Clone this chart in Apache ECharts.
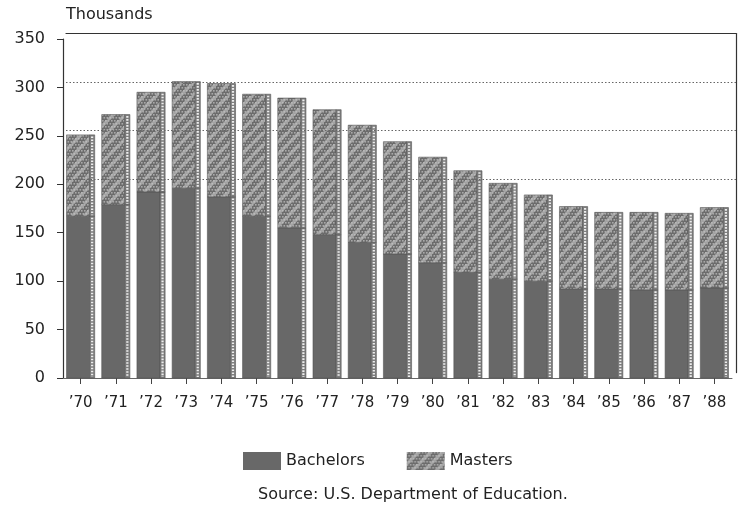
<!DOCTYPE html>
<html>
<head>
<meta charset="utf-8">
<script src="https://cdn.jsdelivr.net/npm/echarts@6/dist/echarts.min.js"></script>
<style>
  html, body { margin: 0; padding: 0; background: #ffffff; }
  #chart { width: 739px; height: 515px; }
</style>
</head>
<body>
<div id="chart"></div>
<script>
// Degrees conferred, in thousands, 1970-1988
const years = ['\u201970', '\u201971', '\u201972', '\u201973', '\u201974', '\u201975', '\u201976',
  '\u201977', '\u201978', '\u201979', '\u201980', '\u201981', '\u201982', '\u201983', '\u201984',
  '\u201985', '\u201986', '\u201987', '\u201988'];
const bachelors = [167, 179, 192, 196, 187, 167, 155, 148, 140, 128, 119, 109, 102, 100, 92, 92, 91, 91, 93];
const masters   = [ 84,  93, 103, 110, 117, 126, 134, 129, 121, 116, 109, 105,  99,  89, 85, 79, 80, 79, 83];
const yMin = 0, yMax = 350, yStep = 50;
const backGridValues = [200, 250, 300];

const FONT = 'DejaVu Sans';
const INK = '#222222';

// Textured fill for the Masters segments: dotted screen with light diagonal hatching
function mastersTile() {
  const c = document.createElement('canvas');
  c.width = 12; c.height = 12;
  const g = c.getContext('2d');
  g.fillStyle = '#6c6c6c';
  g.fillRect(0, 0, 12, 12);
  g.fillStyle = '#a9a9a9';
  for (let y = 0; y < 12; y += 3) {
    const off = (y / 3) % 2 ? 1.5 : 0;
    for (let x = off; x < 12; x += 3) g.fillRect(x, y, 1.6, 1.6);
  }
  g.strokeStyle = 'rgba(200,200,200,0.6)';
  g.lineWidth = 3.2;
  for (const k of [-12, 0, 12]) {
    g.beginPath();
    g.moveTo(k, 12);
    g.lineTo(k + 12, 0);
    g.stroke();
  }
  return c;
}

const mastersFill = { image: mastersTile(), repeat: 'repeat' };
const bachelorsFill = '#686868';

// Draws one bar segment: a front face plus a narrow dotted side face
function segment(frontFill) {
  return function (params, api) {
    const i = api.value(0);
    const lo = api.value(1);
    const hi = api.value(2);
    const base = api.coord([i, lo]);
    const top = api.coord([i, hi]);
    const bw = api.size([1, 0])[0];
    const cx = base[0];
    const x0 = cx - 0.40 * bw;
    const x1 = cx + 0.255 * bw;
    const x2 = cx + 0.40 * bw;
    const h = base[1] - top[1];
    const mid = (x1 + x2) / 2;
    return {
      type: 'group',
      children: [
        { type: 'rect', shape: { x: x0, y: top[1], width: x1 - x0, height: h },
          style: { fill: frontFill, stroke: '#555', lineWidth: 0.6 } },
        { type: 'rect', shape: { x: x1, y: top[1], width: x2 - x1, height: h },
          style: { fill: '#7e7e7e', stroke: '#555', lineWidth: 0.6 } },
        { type: 'line', shape: { x1: mid, y1: top[1] + 1.5, x2: mid, y2: base[1] - 1 },
          style: { stroke: '#eeeeee', lineWidth: 2.2, lineDash: [1.6, 1.4] } }
      ]
    };
  };
}

const chart = echarts.init(document.getElementById('chart'), null, { renderer: 'canvas' });

chart.setOption({
  backgroundColor: '#ffffff',
  animation: false,
  title: [
    { text: 'Thousands', left: 66, top: 7, padding: 0,
      textStyle: { fontFamily: FONT, fontSize: 16, fontWeight: 'normal', color: INK } },
    { text: 'Source: U.S. Department of Education.', left: 258, top: 487, padding: 0,
      textStyle: { fontFamily: FONT, fontSize: 16, fontWeight: 'normal', color: INK } }
  ],
  legend: {
    data: ['Bachelors', 'Masters'],
    left: 243, top: 452, padding: 0,
    icon: 'rect', itemWidth: 38, itemHeight: 18, itemGap: 42,
    textStyle: { fontFamily: FONT, fontSize: 16, color: INK },
    selectedMode: false
  },
  grid: [
    // front plane: bars, axis labels
    { left: 63, right: 7, top: 39, bottom: 137 },
    // back wall: frame and dotted reference lines
    { left: 66, right: 3, top: 33.6, bottom: 142.4 }
  ],
  xAxis: [
    {
      type: 'category', gridIndex: 0, data: years,
      axisLine: { show: true, lineStyle: { color: '#666', width: 1 } },
      axisTick: { show: true, alignWithLabel: true, length: 6, lineStyle: { color: '#444' } },
      axisLabel: { margin: 18, fontFamily: FONT, fontSize: 15, color: INK }
    },
    {
      type: 'category', gridIndex: 1, data: years, position: 'top',
      axisLine: { show: true, onZero: false, lineStyle: { color: '#333', width: 1.2 } },
      axisTick: { show: false }, axisLabel: { show: false }, splitLine: { show: false }
    }
  ],
  yAxis: [
    {
      type: 'value', gridIndex: 0, min: yMin, max: yMax, interval: yStep,
      axisLine: { show: true, lineStyle: { color: '#333', width: 1.2 } },
      axisTick: { show: true, length: 6, lineStyle: { color: '#333' } },
      axisLabel: { margin: 18, fontFamily: FONT, fontSize: 16, color: INK },
      splitLine: { show: false }
    },
    {
      type: 'value', gridIndex: 1, min: yMin, max: yMax, interval: yStep, position: 'right',
      axisLine: { show: true, onZero: false, lineStyle: { color: '#333', width: 1.2 } },
      axisTick: { show: false }, axisLabel: { show: false }, splitLine: { show: false }
    }
  ],
  series: [
    {
      name: 'back wall', type: 'line', xAxisIndex: 1, yAxisIndex: 1, data: [],
      silent: true, z: 0,
      markLine: {
        silent: true, symbol: 'none', label: { show: false },
        lineStyle: { type: [1.5, 2], color: '#666', width: 1 },
        data: backGridValues.map(v => ({ yAxis: v }))
      }
    },
    {
      name: 'Bachelors', type: 'custom', xAxisIndex: 0, yAxisIndex: 0, z: 3,
      itemStyle: { color: bachelorsFill },
      renderItem: segment(bachelorsFill),
      encode: { x: 0, y: [1, 2] },
      data: years.map((_, i) => [i, 0, bachelors[i]])
    },
    {
      name: 'Masters', type: 'custom', xAxisIndex: 0, yAxisIndex: 0, z: 3,
      itemStyle: { color: mastersFill },
      renderItem: segment(mastersFill),
      encode: { x: 0, y: [1, 2] },
      data: years.map((_, i) => [i, bachelors[i], bachelors[i] + masters[i]])
    }
  ]
});
</script>
</body>
</html>
